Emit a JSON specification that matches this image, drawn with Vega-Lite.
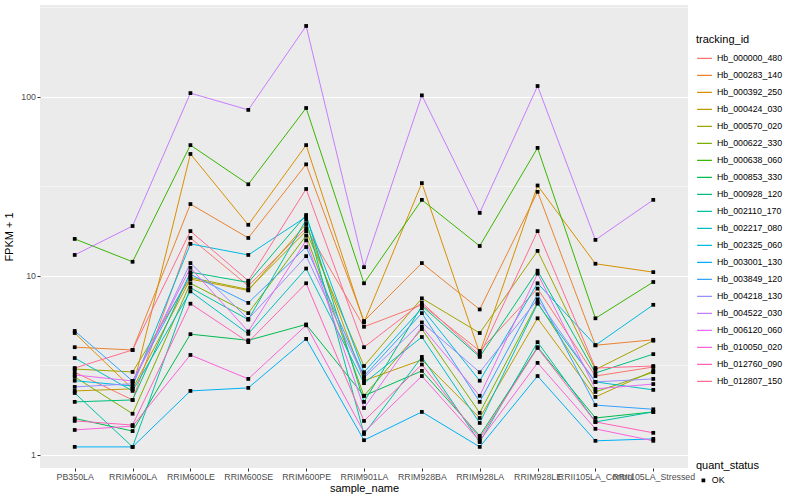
{
"$schema": "https://vega.github.io/schema/vega-lite/v6.json",
"autosize": "none",
"width": 648,
"height": 463,
"padding": {"left": 40, "top": 5, "right": 112, "bottom": 32},
"background": "white",
"config": {
  "font": "Liberation Sans",
  "view": {"fill": "#EBEBEB", "stroke": null},
  "axis": {"domain": false, "gridColor": "#FFFFFF", "tickColor": "#333333", "tickSize": 3, "labelColor": "#4D4D4D", "labelFontSize": 8.8, "titleFontSize": 11, "titleFontWeight": "normal", "titleColor": "#000000", "labelPadding": 1.5},
  "legend": {"titleFontSize": 11, "titleFontWeight": "normal", "labelFontSize": 8.8, "titleColor": "#000000", "labelColor": "#000000"}
},
"data": {"values": [
{"tracking_id":"Hb_000000_480","sample_name":"PB350LA","fpkm1":2.9,"quant_status":"OK"},
{"tracking_id":"Hb_000000_480","sample_name":"RRIM600LA","fpkm1":2.03,"quant_status":"OK"},
{"tracking_id":"Hb_000000_480","sample_name":"RRIM600LE","fpkm1":16.3,"quant_status":"OK"},
{"tracking_id":"Hb_000000_480","sample_name":"RRIM600SE","fpkm1":8.8,"quant_status":"OK"},
{"tracking_id":"Hb_000000_480","sample_name":"RRIM600PE","fpkm1":18.5,"quant_status":"OK"},
{"tracking_id":"Hb_000000_480","sample_name":"RRIM901LA","fpkm1":5.2,"quant_status":"OK"},
{"tracking_id":"Hb_000000_480","sample_name":"RRIM928BA","fpkm1":6.9,"quant_status":"OK"},
{"tracking_id":"Hb_000000_480","sample_name":"RRIM928LA","fpkm1":3.81,"quant_status":"OK"},
{"tracking_id":"Hb_000000_480","sample_name":"RRIM928LE","fpkm1":8.5,"quant_status":"OK"},
{"tracking_id":"Hb_000000_480","sample_name":"RRII105LA_Control","fpkm1":2.76,"quant_status":"OK"},
{"tracking_id":"Hb_000000_480","sample_name":"RRII105LA_Stressed","fpkm1":3.1,"quant_status":"OK"},
{"tracking_id":"Hb_000283_140","sample_name":"PB350LA","fpkm1":4.0,"quant_status":"OK"},
{"tracking_id":"Hb_000283_140","sample_name":"RRIM600LA","fpkm1":3.86,"quant_status":"OK"},
{"tracking_id":"Hb_000283_140","sample_name":"RRIM600LE","fpkm1":25.2,"quant_status":"OK"},
{"tracking_id":"Hb_000283_140","sample_name":"RRIM600SE","fpkm1":16.3,"quant_status":"OK"},
{"tracking_id":"Hb_000283_140","sample_name":"RRIM600PE","fpkm1":42,"quant_status":"OK"},
{"tracking_id":"Hb_000283_140","sample_name":"RRIM901LA","fpkm1":5.6,"quant_status":"OK"},
{"tracking_id":"Hb_000283_140","sample_name":"RRIM928BA","fpkm1":11.8,"quant_status":"OK"},
{"tracking_id":"Hb_000283_140","sample_name":"RRIM928LA","fpkm1":6.5,"quant_status":"OK"},
{"tracking_id":"Hb_000283_140","sample_name":"RRIM928LE","fpkm1":29.5,"quant_status":"OK"},
{"tracking_id":"Hb_000283_140","sample_name":"RRII105LA_Control","fpkm1":4.1,"quant_status":"OK"},
{"tracking_id":"Hb_000283_140","sample_name":"RRII105LA_Stressed","fpkm1":4.4,"quant_status":"OK"},
{"tracking_id":"Hb_000392_250","sample_name":"PB350LA","fpkm1":4.8,"quant_status":"OK"},
{"tracking_id":"Hb_000392_250","sample_name":"RRIM600LA","fpkm1":2.34,"quant_status":"OK"},
{"tracking_id":"Hb_000392_250","sample_name":"RRIM600LE","fpkm1":48,"quant_status":"OK"},
{"tracking_id":"Hb_000392_250","sample_name":"RRIM600SE","fpkm1":19.3,"quant_status":"OK"},
{"tracking_id":"Hb_000392_250","sample_name":"RRIM600PE","fpkm1":53.8,"quant_status":"OK"},
{"tracking_id":"Hb_000392_250","sample_name":"RRIM901LA","fpkm1":5.5,"quant_status":"OK"},
{"tracking_id":"Hb_000392_250","sample_name":"RRIM928BA","fpkm1":33,"quant_status":"OK"},
{"tracking_id":"Hb_000392_250","sample_name":"RRIM928LA","fpkm1":3.7,"quant_status":"OK"},
{"tracking_id":"Hb_000392_250","sample_name":"RRIM928LE","fpkm1":32,"quant_status":"OK"},
{"tracking_id":"Hb_000392_250","sample_name":"RRII105LA_Control","fpkm1":11.7,"quant_status":"OK"},
{"tracking_id":"Hb_000392_250","sample_name":"RRII105LA_Stressed","fpkm1":10.5,"quant_status":"OK"},
{"tracking_id":"Hb_000424_030","sample_name":"PB350LA","fpkm1":2.28,"quant_status":"OK"},
{"tracking_id":"Hb_000424_030","sample_name":"RRIM600LA","fpkm1":2.34,"quant_status":"OK"},
{"tracking_id":"Hb_000424_030","sample_name":"RRIM600LE","fpkm1":9.6,"quant_status":"OK"},
{"tracking_id":"Hb_000424_030","sample_name":"RRIM600SE","fpkm1":8.3,"quant_status":"OK"},
{"tracking_id":"Hb_000424_030","sample_name":"RRIM600PE","fpkm1":19.5,"quant_status":"OK"},
{"tracking_id":"Hb_000424_030","sample_name":"RRIM901LA","fpkm1":2.6,"quant_status":"OK"},
{"tracking_id":"Hb_000424_030","sample_name":"RRIM928BA","fpkm1":3.4,"quant_status":"OK"},
{"tracking_id":"Hb_000424_030","sample_name":"RRIM928LA","fpkm1":1.61,"quant_status":"OK"},
{"tracking_id":"Hb_000424_030","sample_name":"RRIM928LE","fpkm1":5.8,"quant_status":"OK"},
{"tracking_id":"Hb_000424_030","sample_name":"RRII105LA_Control","fpkm1":2.11,"quant_status":"OK"},
{"tracking_id":"Hb_000424_030","sample_name":"RRII105LA_Stressed","fpkm1":2.95,"quant_status":"OK"},
{"tracking_id":"Hb_000570_020","sample_name":"PB350LA","fpkm1":3.02,"quant_status":"OK"},
{"tracking_id":"Hb_000570_020","sample_name":"RRIM600LA","fpkm1":2.91,"quant_status":"OK"},
{"tracking_id":"Hb_000570_020","sample_name":"RRIM600LE","fpkm1":9.8,"quant_status":"OK"},
{"tracking_id":"Hb_000570_020","sample_name":"RRIM600SE","fpkm1":8.4,"quant_status":"OK"},
{"tracking_id":"Hb_000570_020","sample_name":"RRIM600PE","fpkm1":17.8,"quant_status":"OK"},
{"tracking_id":"Hb_000570_020","sample_name":"RRIM901LA","fpkm1":3.14,"quant_status":"OK"},
{"tracking_id":"Hb_000570_020","sample_name":"RRIM928BA","fpkm1":7.5,"quant_status":"OK"},
{"tracking_id":"Hb_000570_020","sample_name":"RRIM928LA","fpkm1":4.8,"quant_status":"OK"},
{"tracking_id":"Hb_000570_020","sample_name":"RRIM928LE","fpkm1":13.8,"quant_status":"OK"},
{"tracking_id":"Hb_000570_020","sample_name":"RRII105LA_Control","fpkm1":3.0,"quant_status":"OK"},
{"tracking_id":"Hb_000570_020","sample_name":"RRII105LA_Stressed","fpkm1":4.35,"quant_status":"OK"},
{"tracking_id":"Hb_000622_330","sample_name":"PB350LA","fpkm1":2.73,"quant_status":"OK"},
{"tracking_id":"Hb_000622_330","sample_name":"RRIM600LA","fpkm1":1.7,"quant_status":"OK"},
{"tracking_id":"Hb_000622_330","sample_name":"RRIM600LE","fpkm1":9.1,"quant_status":"OK"},
{"tracking_id":"Hb_000622_330","sample_name":"RRIM600SE","fpkm1":6.2,"quant_status":"OK"},
{"tracking_id":"Hb_000622_330","sample_name":"RRIM600PE","fpkm1":16.8,"quant_status":"OK"},
{"tracking_id":"Hb_000622_330","sample_name":"RRIM901LA","fpkm1":2.14,"quant_status":"OK"},
{"tracking_id":"Hb_000622_330","sample_name":"RRIM928BA","fpkm1":5.05,"quant_status":"OK"},
{"tracking_id":"Hb_000622_330","sample_name":"RRIM928LA","fpkm1":1.72,"quant_status":"OK"},
{"tracking_id":"Hb_000622_330","sample_name":"RRIM928LE","fpkm1":7.1,"quant_status":"OK"},
{"tracking_id":"Hb_000622_330","sample_name":"RRII105LA_Control","fpkm1":2.25,"quant_status":"OK"},
{"tracking_id":"Hb_000622_330","sample_name":"RRII105LA_Stressed","fpkm1":2.9,"quant_status":"OK"},
{"tracking_id":"Hb_000638_060","sample_name":"PB350LA","fpkm1":16.1,"quant_status":"OK"},
{"tracking_id":"Hb_000638_060","sample_name":"RRIM600LA","fpkm1":12,"quant_status":"OK"},
{"tracking_id":"Hb_000638_060","sample_name":"RRIM600LE","fpkm1":53.8,"quant_status":"OK"},
{"tracking_id":"Hb_000638_060","sample_name":"RRIM600SE","fpkm1":32.5,"quant_status":"OK"},
{"tracking_id":"Hb_000638_060","sample_name":"RRIM600PE","fpkm1":86.7,"quant_status":"OK"},
{"tracking_id":"Hb_000638_060","sample_name":"RRIM901LA","fpkm1":9.1,"quant_status":"OK"},
{"tracking_id":"Hb_000638_060","sample_name":"RRIM928BA","fpkm1":26.6,"quant_status":"OK"},
{"tracking_id":"Hb_000638_060","sample_name":"RRIM928LA","fpkm1":14.7,"quant_status":"OK"},
{"tracking_id":"Hb_000638_060","sample_name":"RRIM928LE","fpkm1":51.9,"quant_status":"OK"},
{"tracking_id":"Hb_000638_060","sample_name":"RRII105LA_Control","fpkm1":5.8,"quant_status":"OK"},
{"tracking_id":"Hb_000638_060","sample_name":"RRII105LA_Stressed","fpkm1":9.25,"quant_status":"OK"},
{"tracking_id":"Hb_000853_330","sample_name":"PB350LA","fpkm1":1.6,"quant_status":"OK"},
{"tracking_id":"Hb_000853_330","sample_name":"RRIM600LA","fpkm1":1.36,"quant_status":"OK"},
{"tracking_id":"Hb_000853_330","sample_name":"RRIM600LE","fpkm1":4.73,"quant_status":"OK"},
{"tracking_id":"Hb_000853_330","sample_name":"RRIM600SE","fpkm1":4.37,"quant_status":"OK"},
{"tracking_id":"Hb_000853_330","sample_name":"RRIM600PE","fpkm1":5.36,"quant_status":"OK"},
{"tracking_id":"Hb_000853_330","sample_name":"RRIM901LA","fpkm1":2.14,"quant_status":"OK"},
{"tracking_id":"Hb_000853_330","sample_name":"RRIM928BA","fpkm1":2.95,"quant_status":"OK"},
{"tracking_id":"Hb_000853_330","sample_name":"RRIM928LA","fpkm1":1.28,"quant_status":"OK"},
{"tracking_id":"Hb_000853_330","sample_name":"RRIM928LE","fpkm1":4.0,"quant_status":"OK"},
{"tracking_id":"Hb_000853_330","sample_name":"RRII105LA_Control","fpkm1":1.61,"quant_status":"OK"},
{"tracking_id":"Hb_000853_330","sample_name":"RRII105LA_Stressed","fpkm1":1.74,"quant_status":"OK"},
{"tracking_id":"Hb_000928_120","sample_name":"PB350LA","fpkm1":1.98,"quant_status":"OK"},
{"tracking_id":"Hb_000928_120","sample_name":"RRIM600LA","fpkm1":2.03,"quant_status":"OK"},
{"tracking_id":"Hb_000928_120","sample_name":"RRIM600LE","fpkm1":10.5,"quant_status":"OK"},
{"tracking_id":"Hb_000928_120","sample_name":"RRIM600SE","fpkm1":9.2,"quant_status":"OK"},
{"tracking_id":"Hb_000928_120","sample_name":"RRIM600PE","fpkm1":21.9,"quant_status":"OK"},
{"tracking_id":"Hb_000928_120","sample_name":"RRIM901LA","fpkm1":1.98,"quant_status":"OK"},
{"tracking_id":"Hb_000928_120","sample_name":"RRIM928BA","fpkm1":6.8,"quant_status":"OK"},
{"tracking_id":"Hb_000928_120","sample_name":"RRIM928LA","fpkm1":3.53,"quant_status":"OK"},
{"tracking_id":"Hb_000928_120","sample_name":"RRIM928LE","fpkm1":10.7,"quant_status":"OK"},
{"tracking_id":"Hb_000928_120","sample_name":"RRII105LA_Control","fpkm1":2.87,"quant_status":"OK"},
{"tracking_id":"Hb_000928_120","sample_name":"RRII105LA_Stressed","fpkm1":3.66,"quant_status":"OK"},
{"tracking_id":"Hb_002110_170","sample_name":"PB350LA","fpkm1":2.22,"quant_status":"OK"},
{"tracking_id":"Hb_002110_170","sample_name":"RRIM600LA","fpkm1":1.11,"quant_status":"OK"},
{"tracking_id":"Hb_002110_170","sample_name":"RRIM600LE","fpkm1":8.6,"quant_status":"OK"},
{"tracking_id":"Hb_002110_170","sample_name":"RRIM600SE","fpkm1":5.7,"quant_status":"OK"},
{"tracking_id":"Hb_002110_170","sample_name":"RRIM600PE","fpkm1":20.6,"quant_status":"OK"},
{"tracking_id":"Hb_002110_170","sample_name":"RRIM901LA","fpkm1":1.31,"quant_status":"OK"},
{"tracking_id":"Hb_002110_170","sample_name":"RRIM928BA","fpkm1":3.53,"quant_status":"OK"},
{"tracking_id":"Hb_002110_170","sample_name":"RRIM928LA","fpkm1":1.18,"quant_status":"OK"},
{"tracking_id":"Hb_002110_170","sample_name":"RRIM928LE","fpkm1":4.27,"quant_status":"OK"},
{"tracking_id":"Hb_002110_170","sample_name":"RRII105LA_Control","fpkm1":1.53,"quant_status":"OK"},
{"tracking_id":"Hb_002110_170","sample_name":"RRII105LA_Stressed","fpkm1":1.74,"quant_status":"OK"},
{"tracking_id":"Hb_002217_080","sample_name":"PB350LA","fpkm1":3.48,"quant_status":"OK"},
{"tracking_id":"Hb_002217_080","sample_name":"RRIM600LA","fpkm1":2.28,"quant_status":"OK"},
{"tracking_id":"Hb_002217_080","sample_name":"RRIM600LE","fpkm1":8.2,"quant_status":"OK"},
{"tracking_id":"Hb_002217_080","sample_name":"RRIM600SE","fpkm1":4.75,"quant_status":"OK"},
{"tracking_id":"Hb_002217_080","sample_name":"RRIM600PE","fpkm1":11.0,"quant_status":"OK"},
{"tracking_id":"Hb_002217_080","sample_name":"RRIM901LA","fpkm1":2.52,"quant_status":"OK"},
{"tracking_id":"Hb_002217_080","sample_name":"RRIM928BA","fpkm1":4.56,"quant_status":"OK"},
{"tracking_id":"Hb_002217_080","sample_name":"RRIM928LA","fpkm1":1.51,"quant_status":"OK"},
{"tracking_id":"Hb_002217_080","sample_name":"RRIM928LE","fpkm1":7.0,"quant_status":"OK"},
{"tracking_id":"Hb_002217_080","sample_name":"RRII105LA_Control","fpkm1":2.56,"quant_status":"OK"},
{"tracking_id":"Hb_002217_080","sample_name":"RRII105LA_Stressed","fpkm1":2.31,"quant_status":"OK"},
{"tracking_id":"Hb_002325_060","sample_name":"PB350LA","fpkm1":2.6,"quant_status":"OK"},
{"tracking_id":"Hb_002325_060","sample_name":"RRIM600LA","fpkm1":2.43,"quant_status":"OK"},
{"tracking_id":"Hb_002325_060","sample_name":"RRIM600LE","fpkm1":15.1,"quant_status":"OK"},
{"tracking_id":"Hb_002325_060","sample_name":"RRIM600SE","fpkm1":13.1,"quant_status":"OK"},
{"tracking_id":"Hb_002325_060","sample_name":"RRIM600PE","fpkm1":21.4,"quant_status":"OK"},
{"tracking_id":"Hb_002325_060","sample_name":"RRIM901LA","fpkm1":2.9,"quant_status":"OK"},
{"tracking_id":"Hb_002325_060","sample_name":"RRIM928BA","fpkm1":6.6,"quant_status":"OK"},
{"tracking_id":"Hb_002325_060","sample_name":"RRIM928LA","fpkm1":2.6,"quant_status":"OK"},
{"tracking_id":"Hb_002325_060","sample_name":"RRIM928LE","fpkm1":9.1,"quant_status":"OK"},
{"tracking_id":"Hb_002325_060","sample_name":"RRII105LA_Control","fpkm1":4.1,"quant_status":"OK"},
{"tracking_id":"Hb_002325_060","sample_name":"RRII105LA_Stressed","fpkm1":6.9,"quant_status":"OK"},
{"tracking_id":"Hb_003001_130","sample_name":"PB350LA","fpkm1":1.11,"quant_status":"OK"},
{"tracking_id":"Hb_003001_130","sample_name":"RRIM600LA","fpkm1":1.11,"quant_status":"OK"},
{"tracking_id":"Hb_003001_130","sample_name":"RRIM600LE","fpkm1":2.28,"quant_status":"OK"},
{"tracking_id":"Hb_003001_130","sample_name":"RRIM600SE","fpkm1":2.37,"quant_status":"OK"},
{"tracking_id":"Hb_003001_130","sample_name":"RRIM600PE","fpkm1":4.45,"quant_status":"OK"},
{"tracking_id":"Hb_003001_130","sample_name":"RRIM901LA","fpkm1":1.21,"quant_status":"OK"},
{"tracking_id":"Hb_003001_130","sample_name":"RRIM928BA","fpkm1":1.74,"quant_status":"OK"},
{"tracking_id":"Hb_003001_130","sample_name":"RRIM928LA","fpkm1":1.11,"quant_status":"OK"},
{"tracking_id":"Hb_003001_130","sample_name":"RRIM928LE","fpkm1":2.76,"quant_status":"OK"},
{"tracking_id":"Hb_003001_130","sample_name":"RRII105LA_Control","fpkm1":1.2,"quant_status":"OK"},
{"tracking_id":"Hb_003001_130","sample_name":"RRII105LA_Stressed","fpkm1":1.23,"quant_status":"OK"},
{"tracking_id":"Hb_003849_120","sample_name":"PB350LA","fpkm1":4.93,"quant_status":"OK"},
{"tracking_id":"Hb_003849_120","sample_name":"RRIM600LA","fpkm1":2.59,"quant_status":"OK"},
{"tracking_id":"Hb_003849_120","sample_name":"RRIM600LE","fpkm1":10.2,"quant_status":"OK"},
{"tracking_id":"Hb_003849_120","sample_name":"RRIM600SE","fpkm1":7.07,"quant_status":"OK"},
{"tracking_id":"Hb_003849_120","sample_name":"RRIM600PE","fpkm1":14.5,"quant_status":"OK"},
{"tracking_id":"Hb_003849_120","sample_name":"RRIM901LA","fpkm1":2.76,"quant_status":"OK"},
{"tracking_id":"Hb_003849_120","sample_name":"RRIM928BA","fpkm1":6.2,"quant_status":"OK"},
{"tracking_id":"Hb_003849_120","sample_name":"RRIM928LA","fpkm1":1.98,"quant_status":"OK"},
{"tracking_id":"Hb_003849_120","sample_name":"RRIM928LE","fpkm1":7.9,"quant_status":"OK"},
{"tracking_id":"Hb_003849_120","sample_name":"RRII105LA_Control","fpkm1":1.9,"quant_status":"OK"},
{"tracking_id":"Hb_003849_120","sample_name":"RRII105LA_Stressed","fpkm1":1.8,"quant_status":"OK"},
{"tracking_id":"Hb_004218_130","sample_name":"PB350LA","fpkm1":2.4,"quant_status":"OK"},
{"tracking_id":"Hb_004218_130","sample_name":"RRIM600LA","fpkm1":2.5,"quant_status":"OK"},
{"tracking_id":"Hb_004218_130","sample_name":"RRIM600LE","fpkm1":11.8,"quant_status":"OK"},
{"tracking_id":"Hb_004218_130","sample_name":"RRIM600SE","fpkm1":5.75,"quant_status":"OK"},
{"tracking_id":"Hb_004218_130","sample_name":"RRIM600PE","fpkm1":12.9,"quant_status":"OK"},
{"tracking_id":"Hb_004218_130","sample_name":"RRIM901LA","fpkm1":2.7,"quant_status":"OK"},
{"tracking_id":"Hb_004218_130","sample_name":"RRIM928BA","fpkm1":5.5,"quant_status":"OK"},
{"tracking_id":"Hb_004218_130","sample_name":"RRIM928LA","fpkm1":2.9,"quant_status":"OK"},
{"tracking_id":"Hb_004218_130","sample_name":"RRIM928LE","fpkm1":7.4,"quant_status":"OK"},
{"tracking_id":"Hb_004218_130","sample_name":"RRII105LA_Control","fpkm1":2.56,"quant_status":"OK"},
{"tracking_id":"Hb_004218_130","sample_name":"RRII105LA_Stressed","fpkm1":2.66,"quant_status":"OK"},
{"tracking_id":"Hb_004522_030","sample_name":"PB350LA","fpkm1":13.1,"quant_status":"OK"},
{"tracking_id":"Hb_004522_030","sample_name":"RRIM600LA","fpkm1":19,"quant_status":"OK"},
{"tracking_id":"Hb_004522_030","sample_name":"RRIM600LE","fpkm1":105,"quant_status":"OK"},
{"tracking_id":"Hb_004522_030","sample_name":"RRIM600SE","fpkm1":84.6,"quant_status":"OK"},
{"tracking_id":"Hb_004522_030","sample_name":"RRIM600PE","fpkm1":249,"quant_status":"OK"},
{"tracking_id":"Hb_004522_030","sample_name":"RRIM901LA","fpkm1":11.2,"quant_status":"OK"},
{"tracking_id":"Hb_004522_030","sample_name":"RRIM928BA","fpkm1":102,"quant_status":"OK"},
{"tracking_id":"Hb_004522_030","sample_name":"RRIM928LA","fpkm1":22.5,"quant_status":"OK"},
{"tracking_id":"Hb_004522_030","sample_name":"RRIM928LE","fpkm1":115,"quant_status":"OK"},
{"tracking_id":"Hb_004522_030","sample_name":"RRII105LA_Control","fpkm1":15.9,"quant_status":"OK"},
{"tracking_id":"Hb_004522_030","sample_name":"RRII105LA_Stressed","fpkm1":26.6,"quant_status":"OK"},
{"tracking_id":"Hb_006120_060","sample_name":"PB350LA","fpkm1":2.8,"quant_status":"OK"},
{"tracking_id":"Hb_006120_060","sample_name":"RRIM600LA","fpkm1":2.59,"quant_status":"OK"},
{"tracking_id":"Hb_006120_060","sample_name":"RRIM600LE","fpkm1":11.1,"quant_status":"OK"},
{"tracking_id":"Hb_006120_060","sample_name":"RRIM600SE","fpkm1":4.9,"quant_status":"OK"},
{"tracking_id":"Hb_006120_060","sample_name":"RRIM600PE","fpkm1":15.8,"quant_status":"OK"},
{"tracking_id":"Hb_006120_060","sample_name":"RRIM901LA","fpkm1":1.83,"quant_status":"OK"},
{"tracking_id":"Hb_006120_060","sample_name":"RRIM928BA","fpkm1":5.2,"quant_status":"OK"},
{"tracking_id":"Hb_006120_060","sample_name":"RRIM928LA","fpkm1":2.14,"quant_status":"OK"},
{"tracking_id":"Hb_006120_060","sample_name":"RRIM928LE","fpkm1":10.3,"quant_status":"OK"},
{"tracking_id":"Hb_006120_060","sample_name":"RRII105LA_Control","fpkm1":2.34,"quant_status":"OK"},
{"tracking_id":"Hb_006120_060","sample_name":"RRII105LA_Stressed","fpkm1":2.49,"quant_status":"OK"},
{"tracking_id":"Hb_010050_020","sample_name":"PB350LA","fpkm1":1.38,"quant_status":"OK"},
{"tracking_id":"Hb_010050_020","sample_name":"RRIM600LA","fpkm1":1.45,"quant_status":"OK"},
{"tracking_id":"Hb_010050_020","sample_name":"RRIM600LE","fpkm1":3.62,"quant_status":"OK"},
{"tracking_id":"Hb_010050_020","sample_name":"RRIM600SE","fpkm1":2.66,"quant_status":"OK"},
{"tracking_id":"Hb_010050_020","sample_name":"RRIM600PE","fpkm1":5.3,"quant_status":"OK"},
{"tracking_id":"Hb_010050_020","sample_name":"RRIM901LA","fpkm1":1.34,"quant_status":"OK"},
{"tracking_id":"Hb_010050_020","sample_name":"RRIM928BA","fpkm1":2.76,"quant_status":"OK"},
{"tracking_id":"Hb_010050_020","sample_name":"RRIM928LA","fpkm1":1.2,"quant_status":"OK"},
{"tracking_id":"Hb_010050_020","sample_name":"RRIM928LE","fpkm1":3.27,"quant_status":"OK"},
{"tracking_id":"Hb_010050_020","sample_name":"RRII105LA_Control","fpkm1":1.4,"quant_status":"OK"},
{"tracking_id":"Hb_010050_020","sample_name":"RRII105LA_Stressed","fpkm1":1.2,"quant_status":"OK"},
{"tracking_id":"Hb_012760_090","sample_name":"PB350LA","fpkm1":1.55,"quant_status":"OK"},
{"tracking_id":"Hb_012760_090","sample_name":"RRIM600LA","fpkm1":1.47,"quant_status":"OK"},
{"tracking_id":"Hb_012760_090","sample_name":"RRIM600LE","fpkm1":7.0,"quant_status":"OK"},
{"tracking_id":"Hb_012760_090","sample_name":"RRIM600SE","fpkm1":4.27,"quant_status":"OK"},
{"tracking_id":"Hb_012760_090","sample_name":"RRIM600PE","fpkm1":9.1,"quant_status":"OK"},
{"tracking_id":"Hb_012760_090","sample_name":"RRIM901LA","fpkm1":1.55,"quant_status":"OK"},
{"tracking_id":"Hb_012760_090","sample_name":"RRIM928BA","fpkm1":3.2,"quant_status":"OK"},
{"tracking_id":"Hb_012760_090","sample_name":"RRIM928LA","fpkm1":1.24,"quant_status":"OK"},
{"tracking_id":"Hb_012760_090","sample_name":"RRIM928LE","fpkm1":3.96,"quant_status":"OK"},
{"tracking_id":"Hb_012760_090","sample_name":"RRII105LA_Control","fpkm1":1.53,"quant_status":"OK"},
{"tracking_id":"Hb_012760_090","sample_name":"RRII105LA_Stressed","fpkm1":1.33,"quant_status":"OK"},
{"tracking_id":"Hb_012807_150","sample_name":"PB350LA","fpkm1":3.06,"quant_status":"OK"},
{"tracking_id":"Hb_012807_150","sample_name":"RRIM600LA","fpkm1":3.86,"quant_status":"OK"},
{"tracking_id":"Hb_012807_150","sample_name":"RRIM600LE","fpkm1":17.8,"quant_status":"OK"},
{"tracking_id":"Hb_012807_150","sample_name":"RRIM600SE","fpkm1":9.4,"quant_status":"OK"},
{"tracking_id":"Hb_012807_150","sample_name":"RRIM600PE","fpkm1":30.6,"quant_status":"OK"},
{"tracking_id":"Hb_012807_150","sample_name":"RRIM901LA","fpkm1":4.0,"quant_status":"OK"},
{"tracking_id":"Hb_012807_150","sample_name":"RRIM928BA","fpkm1":7.1,"quant_status":"OK"},
{"tracking_id":"Hb_012807_150","sample_name":"RRIM928LA","fpkm1":3.6,"quant_status":"OK"},
{"tracking_id":"Hb_012807_150","sample_name":"RRIM928LE","fpkm1":17.8,"quant_status":"OK"},
{"tracking_id":"Hb_012807_150","sample_name":"RRII105LA_Control","fpkm1":3.06,"quant_status":"OK"},
{"tracking_id":"Hb_012807_150","sample_name":"RRII105LA_Stressed","fpkm1":3.14,"quant_status":"OK"}
]},
"encoding": {
  "x": {"field": "sample_name", "type": "nominal",
    "sort": ["PB350LA","RRIM600LA","RRIM600LE","RRIM600SE","RRIM600PE","RRIM901LA","RRIM928BA","RRIM928LA","RRIM928LE","RRII105LA_Control","RRII105LA_Stressed"],
    "scale": {"type": "point", "padding": 0.6},
    "axis": {"title": "sample_name", "labelAngle": 0, "labelOverlap": false, "gridWidth": 1, "titlePadding": 1}},
  "y": {"field": "fpkm1", "type": "quantitative",
    "scale": {"type": "log", "domain": [0.846, 326], "nice": false, "zero": false},
    "axis": {"title": "FPKM + 1", "values": [1, 3.1623, 10, 31.623, 100, 316.23],
      "labelExpr": "(datum.value == 1 || datum.value == 10 || datum.value == 100) ? datum.label : ''",
      "gridWidth": {"condition": {"test": "datum.value == 1 || datum.value == 10 || datum.value == 100", "value": 1}, "value": 0.5},
      "tickOpacity": {"condition": {"test": "datum.value == 1 || datum.value == 10 || datum.value == 100", "value": 1}, "value": 0},
      "titlePadding": 6}}
},
"layer": [
  {"mark": {"type": "line", "strokeWidth": 1},
   "encoding": {
     "color": {"field": "tracking_id", "type": "nominal",
       "scale": {"range": ["#F8766D","#EA8331","#D89000","#C09B00","#A3A500","#7CAE00","#39B600","#00BB4E","#00BF7D","#00C1A3","#00BFC4","#00BAE0","#00B0F6","#35A2FF","#9590FF","#C77CFF","#E76BF3","#FA62DB","#FF62BC","#FF6C91"]},
       "legend": {"title": "tracking_id", "orient": "none", "legendX": 656, "legendY": 29, "symbolType": "stroke", "symbolStrokeWidth": 1.3, "symbolSize": 220, "clipHeight": 16.7, "rowPadding": 0, "labelOffset": 4}}
   }},
  {"mark": {"type": "point", "filled": true, "color": "#000000", "size": 14, "opacity": 1},
   "encoding": {
     "shape": {"field": "quant_status", "type": "nominal", "scale": {"range": ["square"]},
       "legend": {"title": "quant_status", "orient": "none", "legendX": 656, "legendY": 455, "symbolFillColor": "#000000", "symbolStrokeColor": "#000000", "symbolSize": 14, "labelOffset": 4, "symbolOffset": 3}}
   }}
]
}
